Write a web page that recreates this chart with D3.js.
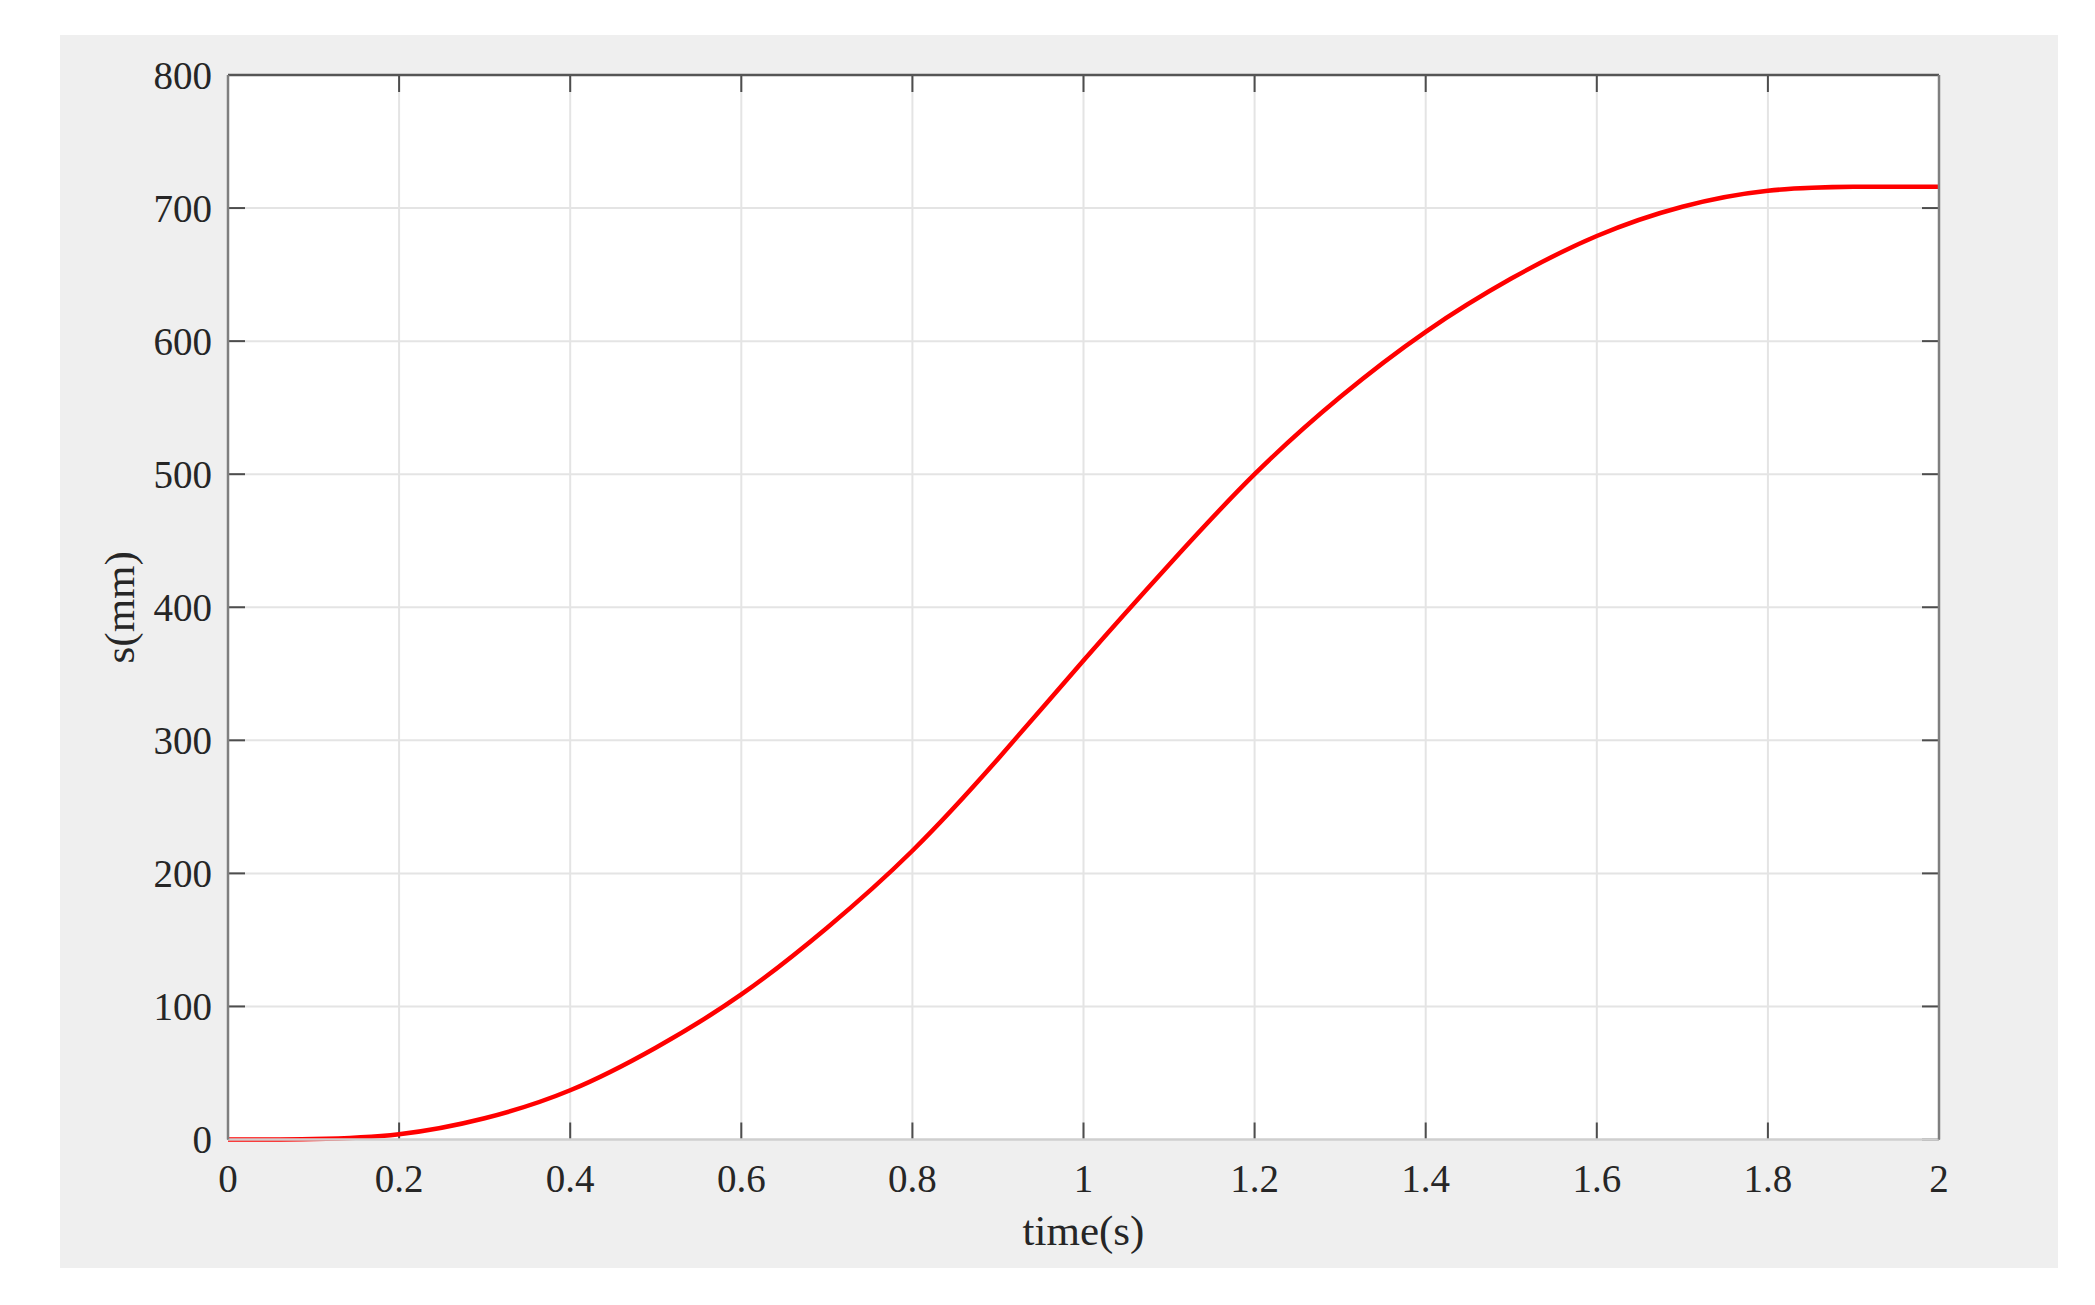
<!DOCTYPE html>
<html>
<head>
<meta charset="utf-8">
<script src="https://cdn.jsdelivr.net/npm/d3@7"></script>
<style>
  html, body { margin: 0; padding: 0; background: #ffffff; }
  svg { display: block; }
  text { font-family: "Liberation Serif", "Times New Roman", serif; fill: #262626; }
</style>
</head>
<body>
<svg id="chart" width="2095" height="1305"></svg>
<script>
// ---- data ----
const timeValues = [0, 0.1, 0.2, 0.3, 0.4, 0.5, 0.6, 0.7, 0.8, 0.9, 1.0, 1.1, 1.2, 1.3, 1.4, 1.5, 1.6, 1.7, 1.8, 1.9, 2.0];
const sValues    = [0, 0.4, 4, 16, 37, 69, 109, 159, 217, 286, 360, 432, 500, 558, 607, 647, 679, 701, 713, 716, 716];
const xTickValues = [0, 0.2, 0.4, 0.6, 0.8, 1, 1.2, 1.4, 1.6, 1.8, 2];
const yTickValues = [0, 100, 200, 300, 400, 500, 600, 700, 800];
const xLabel = "time(s)";
const yLabel = "s(mm)";

// ---- layout ----
const svg = d3.select("#chart");
const plot = { left: 228, right: 1939, top: 75, bottom: 1139.5 };

svg.append("rect")
  .attr("x", 60).attr("y", 35)
  .attr("width", 1998).attr("height", 1233)
  .attr("fill", "#efefef");

const x = d3.scaleLinear().domain([0, 2]).range([plot.left, plot.right]);
const y = d3.scaleLinear().domain([0, 800]).range([plot.bottom, plot.top]);

svg.append("rect")
  .attr("x", plot.left).attr("y", plot.top)
  .attr("width", plot.right - plot.left).attr("height", plot.bottom - plot.top)
  .attr("fill", "#ffffff");

// grid
const grid = svg.append("g");
grid.selectAll("line.gx").data(xTickValues.slice(1, -1)).enter().append("line")
  .attr("x1", d => x(d)).attr("x2", d => x(d))
  .attr("y1", plot.top).attr("y2", plot.bottom)
  .attr("stroke", "#e4e4e4").attr("stroke-width", 2);
grid.selectAll("line.gy").data(yTickValues.slice(1, -1)).enter().append("line")
  .attr("x1", plot.left).attr("x2", plot.right)
  .attr("y1", d => y(d)).attr("y2", d => y(d))
  .attr("stroke", "#e4e4e4").attr("stroke-width", 2);

// inward tick marks
const tickLen = 17;
const ticks = svg.append("g").attr("stroke", "#4d4d4d").attr("stroke-width", 2);
xTickValues.forEach(d => {
  ticks.append("line").attr("x1", x(d)).attr("x2", x(d)).attr("y1", plot.bottom).attr("y2", plot.bottom - tickLen);
  ticks.append("line").attr("x1", x(d)).attr("x2", x(d)).attr("y1", plot.top).attr("y2", plot.top + tickLen);
});
yTickValues.forEach(d => {
  ticks.append("line").attr("x1", plot.left).attr("x2", plot.left + tickLen).attr("y1", y(d)).attr("y2", y(d));
  ticks.append("line").attr("x1", plot.right).attr("x2", plot.right - tickLen).attr("y1", y(d)).attr("y2", y(d));
});

// curve
const line = d3.line()
  .x((d, i) => x(timeValues[i]))
  .y(d => y(d))
  .curve(d3.curveNatural);
svg.append("path")
  .datum(sValues)
  .attr("d", line)
  .attr("fill", "none")
  .attr("stroke", "#ff0000")
  .attr("stroke-width", 4.5)
  .attr("stroke-linejoin", "round");

// frame
svg.append("line").attr("x1", plot.left).attr("x2", plot.right).attr("y1", plot.bottom).attr("y2", plot.bottom)
  .attr("stroke", "#cfcfcf").attr("stroke-width", 2.5);
svg.append("line").attr("x1", plot.left).attr("x2", plot.right).attr("y1", plot.top).attr("y2", plot.top)
  .attr("stroke", "#555555").attr("stroke-width", 2.5);
svg.append("line").attr("x1", plot.left).attr("x2", plot.left).attr("y1", plot.top).attr("y2", plot.bottom)
  .attr("stroke", "#7f7f7f").attr("stroke-width", 2.5);
svg.append("line").attr("x1", plot.right).attr("x2", plot.right).attr("y1", plot.top).attr("y2", plot.bottom)
  .attr("stroke", "#7f7f7f").attr("stroke-width", 2.5);

// tick labels
const fmt = d => String(d);
svg.append("g").selectAll("text").data(xTickValues).enter().append("text")
  .attr("x", d => x(d)).attr("y", 1192)
  .attr("text-anchor", "middle")
  .attr("font-size", 39)
  .text(fmt);
svg.append("g").selectAll("text").data(yTickValues).enter().append("text")
  .attr("x", 212).attr("y", d => y(d))
  .attr("text-anchor", "end")
  .attr("dominant-baseline", "central")
  .attr("font-size", 39)
  .text(fmt);

// axis labels
svg.append("text")
  .attr("x", (plot.left + plot.right) / 2).attr("y", 1245)
  .attr("text-anchor", "middle")
  .attr("font-size", 43)
  .text(xLabel);
svg.append("text")
  .attr("transform", `translate(134, ${(plot.top + plot.bottom) / 2}) rotate(-90)`)
  .attr("text-anchor", "middle")
  .attr("font-size", 43)
  .text(yLabel);
</script>
</body>
</html>
